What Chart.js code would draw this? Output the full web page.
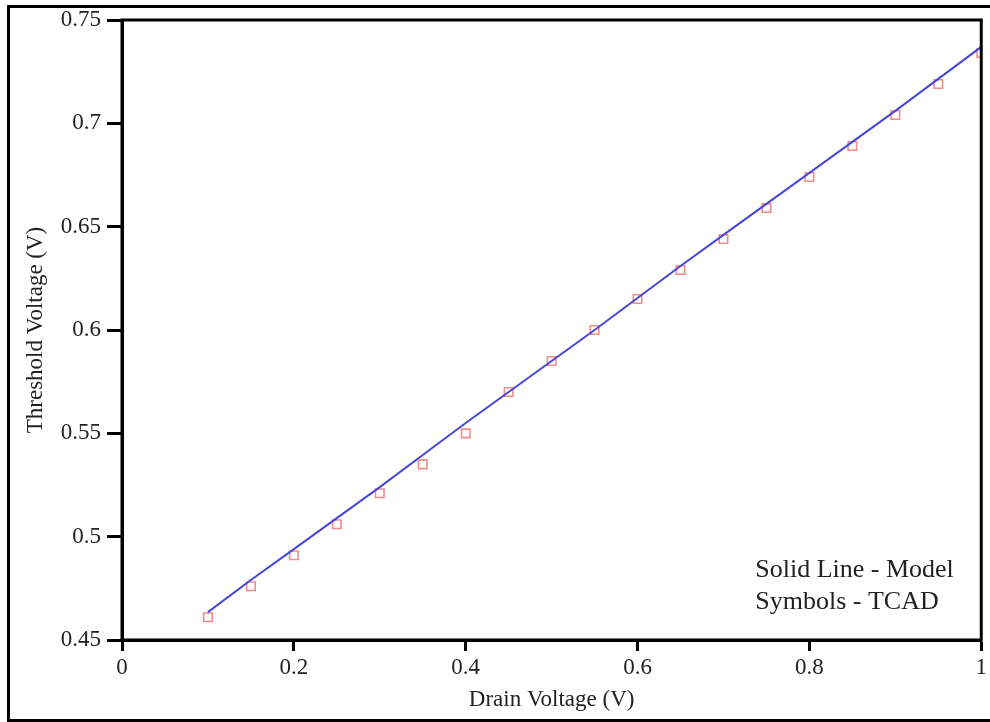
<!DOCTYPE html>
<html>
<head>
<meta charset="utf-8">
<script src="https://cdn.jsdelivr.net/npm/chart.js@4"></script>
<style>
  html, body { margin: 0; padding: 0; background: #fff; overflow: hidden; }
  #frame { position: absolute; left: 7px; top: 5px; width: 1000px; height: 711px; border: 3px solid #000; }
  #wrap { position: absolute; left: 0; top: 0; width: 990px; height: 722px; }
</style>
</head>
<body>
<div id="frame"></div>
<div id="wrap"><canvas id="vt-chart"></canvas></div>
<script>
const drainV = [0.1, 0.15, 0.2, 0.25, 0.3, 0.35, 0.4, 0.45, 0.5, 0.55, 0.6, 0.65, 0.7, 0.75, 0.8, 0.85, 0.9, 0.95, 1.0];
const modelVt = [0.4635, 0.479, 0.494, 0.509, 0.524, 0.5395, 0.555, 0.570, 0.585, 0.600, 0.6155, 0.631, 0.646, 0.661, 0.676, 0.691, 0.706, 0.7215, 0.737];
const tcadVt = [0.461, 0.476, 0.491, 0.506, 0.521, 0.535, 0.550, 0.570, 0.585, 0.600, 0.615, 0.629, 0.644, 0.659, 0.674, 0.689, 0.704, 0.719, 0.734];
const xTicks = [0, 0.2, 0.4, 0.6, 0.8, 1];
const yTicks = [0.45, 0.5, 0.55, 0.6, 0.65, 0.7, 0.75];
const noteLines = ['Solid Line - Model', 'Symbols - TCAD'];

const serif = '"Liberation Serif", "Times New Roman", serif';

// box around the plot + the little text note in the corner
const boxAndNote = {
  id: 'boxAndNote',
  afterDraw(chart) {
    const { ctx, chartArea: a } = chart;
    ctx.save();
    ctx.strokeStyle = '#000';
    ctx.lineWidth = 3;
    ctx.strokeRect(a.left, a.top, a.right - a.left, a.bottom - a.top);
    ctx.fillStyle = '#222';
    ctx.font = '26px ' + serif;
    ctx.textBaseline = 'middle';
    ctx.textAlign = 'left';
    noteLines.forEach((t, i) => ctx.fillText(t, a.right - 226, a.bottom - 70 + i * 32));
    ctx.restore();
  }
};

new Chart(document.getElementById('vt-chart'), {
  type: 'scatter',
  data: {
    datasets: [
      {
        label: 'Model',
        data: drainV.map((x, i) => ({ x, y: modelVt[i] })),
        showLine: true,
        borderColor: '#4646dc',
        borderWidth: 2,
        pointRadius: 0,
        order: 1,
      },
      {
        label: 'TCAD',
        data: drainV.map((x, i) => ({ x, y: tcadVt[i] })),
        pointStyle: 'rect',
        pointRadius: 6,
        borderColor: '#f08c8c',
        backgroundColor: 'rgba(255,255,255,0)',
        borderWidth: 1.6,
        order: 2,
      },
    ],
  },
  options: {
    responsive: true,
    maintainAspectRatio: false,
    animation: false,
    layout: { padding: { left: 0, top: 20, right: 6, bottom: 0 } },
    plugins: { legend: { display: false }, tooltip: { enabled: false } },
    scales: {
      x: {
        type: 'linear',
        min: 0,
        max: 1,
        afterBuildTicks: s => { s.ticks = xTicks.map(v => ({ value: v })); },
        afterFit: s => { s.height = 82; },
        ticks: { color: '#222', font: { family: serif, size: 23 }, padding: 3, maxRotation: 0, callback: v => String(v) },
        grid: { drawOnChartArea: false, tickLength: 11, tickWidth: 3, tickColor: '#000' },
        border: { color: '#000', width: 3 },
        title: { display: true, text: 'Drain Voltage (V)', color: '#222', font: { family: serif, size: 23 }, padding: { bottom: 8 } },
      },
      y: {
        type: 'linear',
        min: 0.45,
        max: 0.75,
        afterBuildTicks: s => { s.ticks = yTicks.map(v => ({ value: v })); },
        afterFit: s => { s.width = 122; },
        ticks: { color: '#222', font: { family: serif, size: 23 }, padding: 6, callback: v => String(v) },
        grid: { drawOnChartArea: false, tickLength: 15, tickWidth: 3, tickColor: '#000' },
        border: { color: '#000', width: 3 },
        title: { display: true, text: 'Threshold Voltage (V)', color: '#222', font: { family: serif, size: 23 }, padding: { top: 22 } },
      },
    },
  },
  plugins: [boxAndNote],
});
</script>
</body>
</html>
